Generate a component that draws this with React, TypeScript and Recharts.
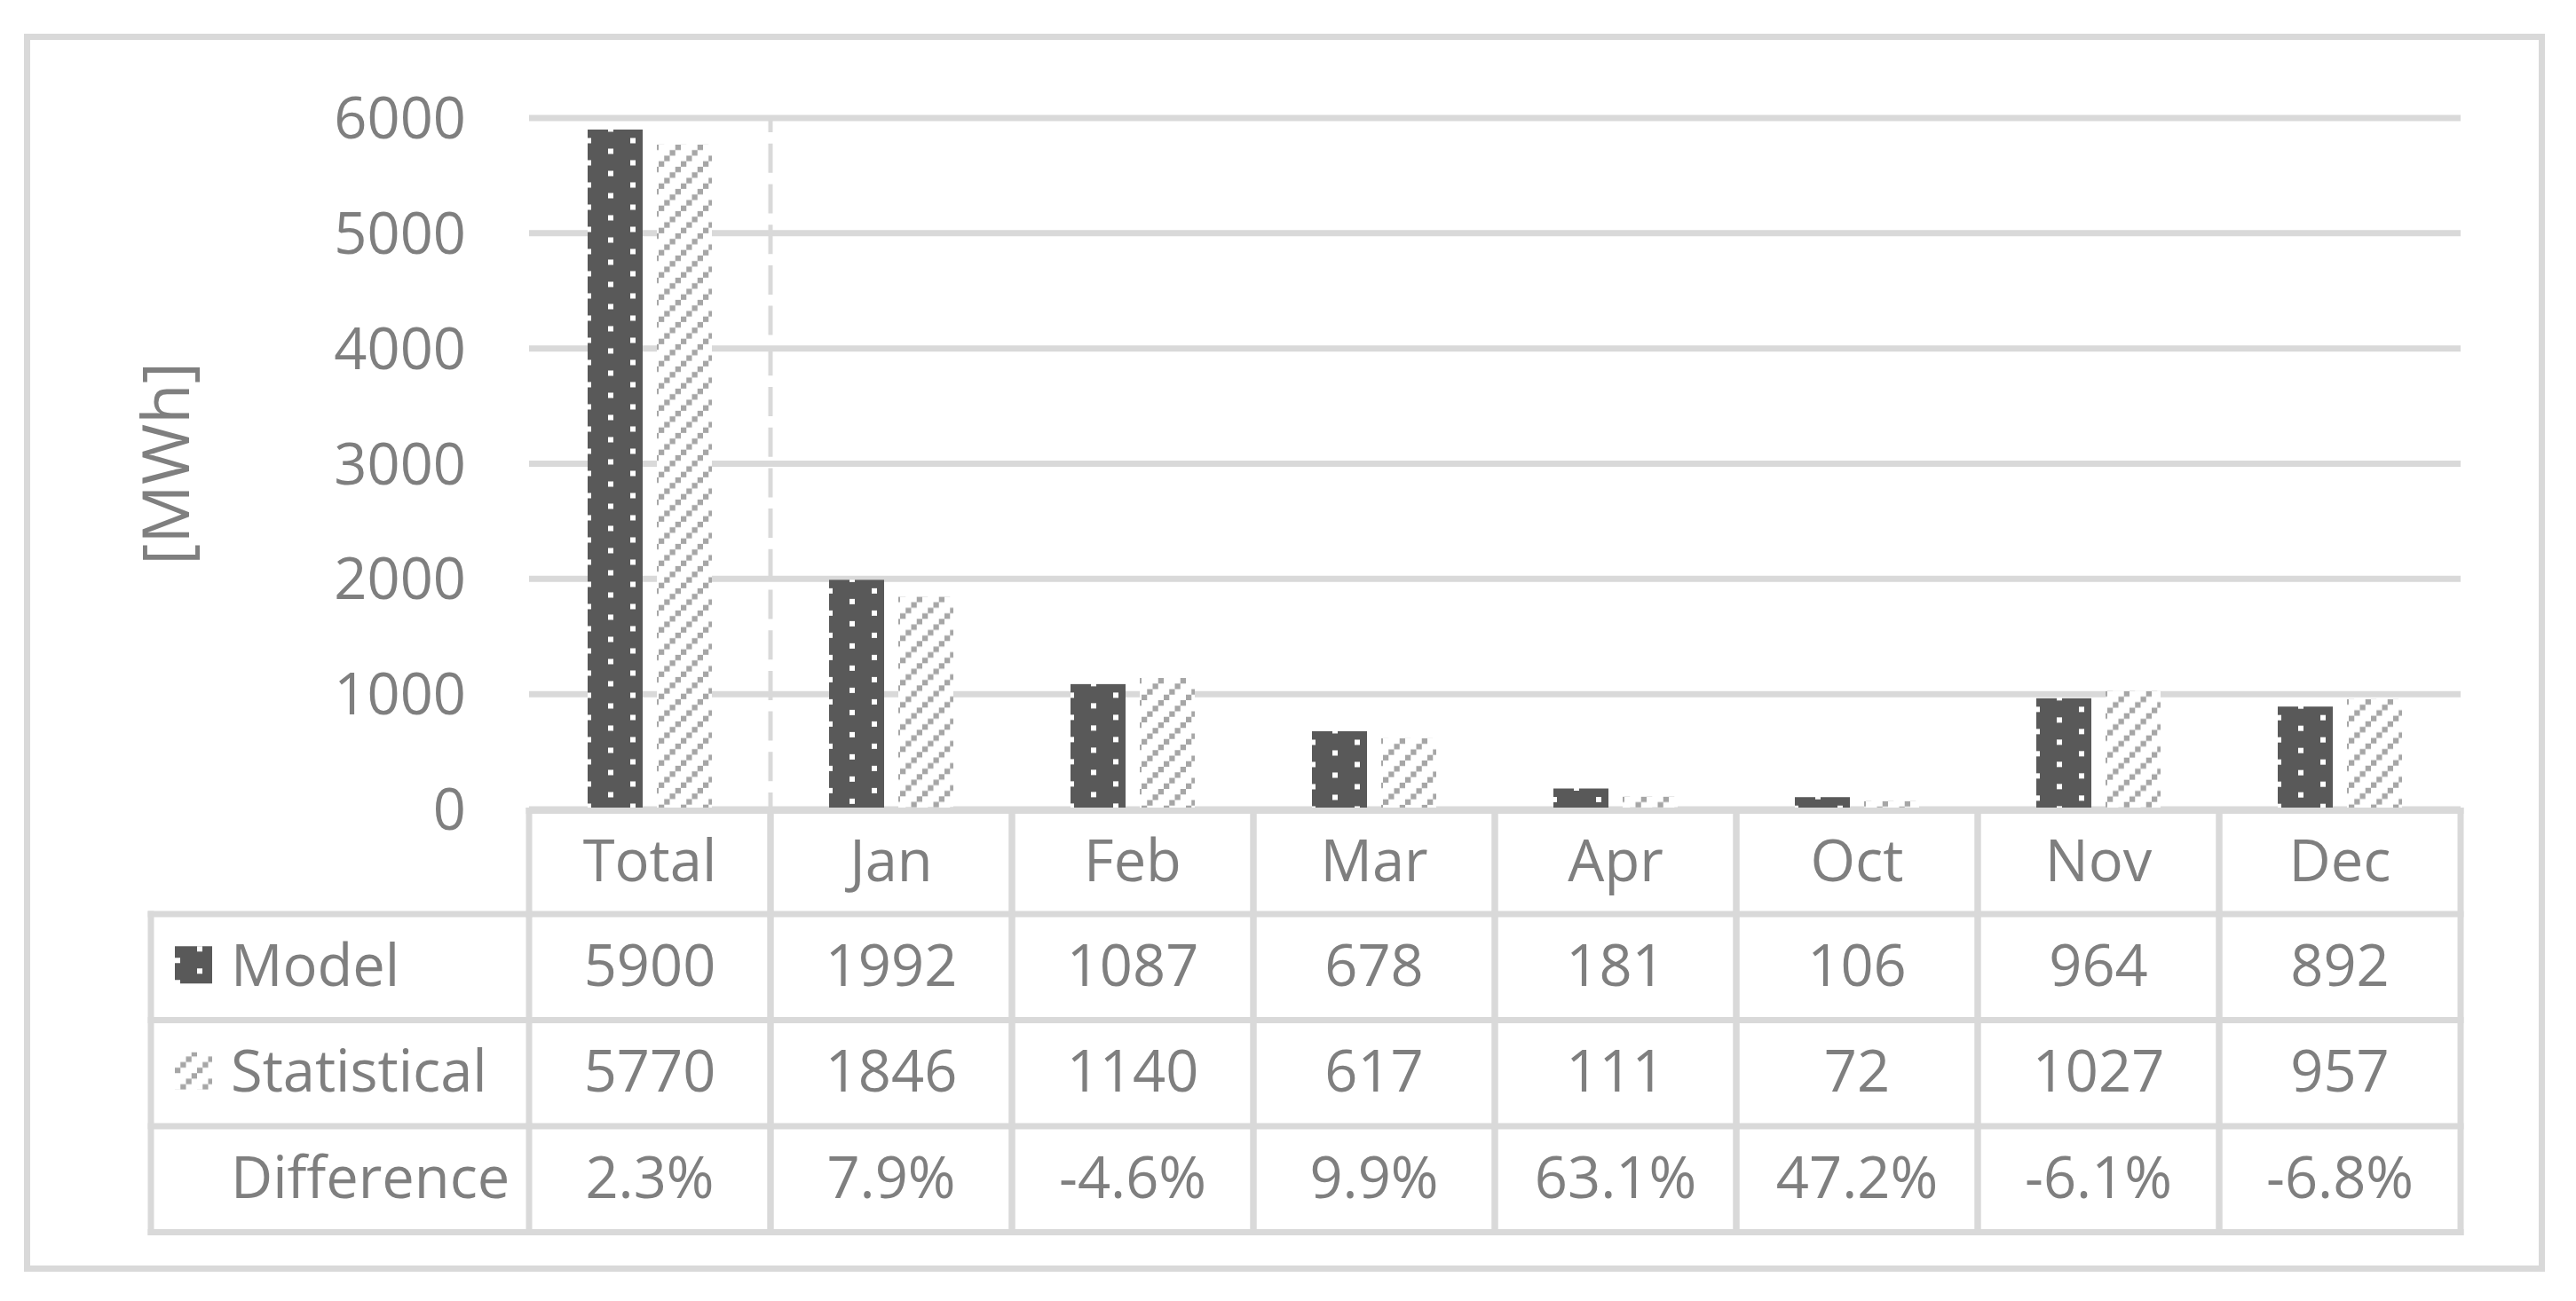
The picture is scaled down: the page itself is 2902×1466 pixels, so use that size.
import React from 'react';
import { BarChart, Bar, XAxis, YAxis, CartesianGrid, ReferenceLine } from 'recharts';

// ---------- data ----------
const categories = ['Total', 'Jan', 'Feb', 'Mar', 'Apr', 'Oct', 'Nov', 'Dec'];
const modelValues = [5900, 1992, 1087, 678, 181, 106, 964, 892];
const statisticalValues = [5770, 1846, 1140, 617, 111, 72, 1027, 957];
const differenceLabels = ['2.3%', '7.9%', '-4.6%', '9.9%', '63.1%', '47.2%', '-6.1%', '-6.8%'];
const yTicks = [0, 1000, 2000, 3000, 4000, 5000, 6000];
const rowNames = ['Model', 'Statistical', 'Difference'];
const yLabel = '[MWh]';

const data = categories.map((c, i) => ({
  category: c,
  model: modelValues[i],
  statistical: statisticalValues[i],
  difference: differenceLabels[i],
}));

// ---------- style ----------
const W = 2902;
const H = 1466;
const FONT = '"Open Sans", "Noto Sans", sans-serif';
const TEXT = '#7f7f7f';
const LINE = '#d9d9d9';
const DARK = '#595959';
const HATCH = '#a6a6a6';
const FS = 65;
const LW = 7;

const MARGIN = { top: 133, right: 130, bottom: 74, left: 0 };
const Y_AXIS_W = 596;
const X_AXIS_H = 480;
const HEADER_H = 116.5;
const ROW_H = 119.5;
const LEGEND_W = 426;
const BAND_FALLBACK = (W - MARGIN.left - MARGIN.right - Y_AXIS_W) / categories.length;

// ---------- patterns ----------
const DotPattern = ({ id, x, y }: any) => (
  <pattern id={id} patternUnits="userSpaceOnUse" x={x - 2} y={y - 3.5} width={50} height={25}>
    <rect x={0} y={0} width={50} height={25} fill={DARK} />
    <rect x={0} y={12.5} width={6} height={6} fill="#ffffff" shapeRendering="crispEdges" />
    <rect x={25} y={0} width={6} height={6} fill="#ffffff" shapeRendering="crispEdges" />
  </pattern>
);

const HatchPattern = ({ id, x, y }: any) => (
  <pattern id={id} patternUnits="userSpaceOnUse" x={x + 2} y={y} width={25} height={25}>
    <rect x={0} y={0} width={25} height={25} fill="#ffffff" />
    {[0, 1, 2, 3].map((k) => (
      <rect key={k} x={k * 6.25} y={18.75 - k * 6.25} width={6.25} height={6.25} fill={HATCH} />
    ))}
  </pattern>
);

const ModelShape = (props: any) => {
  const { x, y, width, height, index } = props;
  if (!(width > 0) || !(height > 0)) return null;
  const id = `model-dots-${index}`;
  return (
    <g>
      <defs>
        <DotPattern id={id} x={x} y={y} />
      </defs>
      <rect x={x} y={y} width={width} height={height} fill={`url(#${id})`} />
    </g>
  );
};

const StatShape = (props: any) => {
  const { x, y, width, height, index } = props;
  if (!(width > 0) || !(height > 0)) return null;
  const id = `stat-hatch-${index}`;
  return (
    <g>
      <defs>
        <HatchPattern id={id} x={x} y={y} />
      </defs>
      <rect x={x} y={y} width={width} height={height} fill={`url(#${id})`} />
    </g>
  );
};

// ---------- data table drawn as x-axis ticks ----------
const TableTick = (props: any) => {
  const { x, y, payload } = props;
  const i = payload && typeof payload.index === 'number' ? payload.index : props.index;
  const half = payload && payload.offset > 0 ? payload.offset : BAND_FALLBACK / 2;
  const left = x - half;
  const right = x + half;
  const top = y + 1.5;
  const rowTops = [
    top,
    top + HEADER_H,
    top + HEADER_H + ROW_H,
    top + HEADER_H + 2 * ROW_H,
    top + HEADER_H + 3 * ROW_H,
  ];
  const textProps = { fill: TEXT, fontSize: FS, fontFamily: FONT };
  const rowValues = [modelValues[i], statisticalValues[i], differenceLabels[i]];
  const lx = left - LEGEND_W;

  return (
    <g>
      {rowTops.map((ry, k) => (
        <line key={`h${k}`} x1={left} x2={right} y1={ry} y2={ry} stroke={LINE} strokeWidth={LW} strokeLinecap="square" />
      ))}
      <line x1={left} x2={left} y1={rowTops[0]} y2={rowTops[4]} stroke={LINE} strokeWidth={LW} strokeLinecap="square" />
      <line x1={right} x2={right} y1={rowTops[0]} y2={rowTops[4]} stroke={LINE} strokeWidth={LW} strokeLinecap="square" />
      <text x={x} y={rowTops[0] + HEADER_H / 2 + 21} textAnchor="middle" {...textProps}>
        {payload.value}
      </text>
      {rowValues.map((v, k) => (
        <text key={`v${k}`} x={x} y={rowTops[k + 1] + ROW_H / 2 + 21} textAnchor="middle" {...textProps}>
          {v}
        </text>
      ))}
      {i === 0 && (
        <g>
          <defs>
            <DotPattern id="legend-dots" x={lx + 29} y={rowTops[1] + ROW_H / 2 - 20} />
            <HatchPattern id="legend-hatch" x={lx + 25} y={rowTops[2] + ROW_H / 2 - 25} />
          </defs>
          {rowTops.slice(1).map((ry, k) => (
            <line key={`lh${k}`} x1={lx} x2={left} y1={ry} y2={ry} stroke={LINE} strokeWidth={LW} strokeLinecap="square" />
          ))}
          <line x1={lx} x2={lx} y1={rowTops[1]} y2={rowTops[4]} stroke={LINE} strokeWidth={LW} strokeLinecap="square" />
          <rect x={lx + 27} y={rowTops[1] + ROW_H / 2 - 23.5} width={42} height={42} fill="url(#legend-dots)" />
          <rect x={lx + 27} y={rowTops[2] + ROW_H / 2 - 23.5} width={42} height={42} fill="url(#legend-hatch)" />
          {rowNames.map((n, k) => (
            <text key={`n${k}`} x={lx + 90} y={rowTops[k + 1] + ROW_H / 2 + 21} textAnchor="start" {...textProps}>
              {n}
            </text>
          ))}
        </g>
      )}
    </g>
  );
};

const renderYLabel = (props: any) => {
  const vb = props && props.viewBox ? props.viewBox : { x: 0, y: MARGIN.top, width: Y_AXIS_W, height: 779 };
  const cx = vb.x + 213;
  const cy = vb.y + vb.height / 2;
  return (
    <text
      x={cx}
      y={cy}
      transform={`rotate(-90 ${cx} ${cy})`}
      textAnchor="middle"
      fill={TEXT}
      fontSize={74}
      fontFamily={FONT}
    >
      {yLabel}
    </text>
  );
};

export default function App() {
  return (
    <div style={{ position: 'absolute', left: 0, top: 0, width: W, height: H, background: '#ffffff', overflow: 'hidden' }}>
      <div
        style={{
          position: 'absolute',
          left: 27,
          top: 38,
          width: 2840,
          height: 1395,
          border: `${LW}px solid ${LINE}`,
          boxSizing: 'border-box',
        }}
      />
      <div style={{ position: 'absolute', left: 0, top: 0 }}>
        <BarChart width={W} height={H} data={data} margin={MARGIN} barSize={62} barGap={16}>
          <CartesianGrid vertical={false} horizontal={true} stroke={LINE} strokeWidth={LW} />
          <XAxis
            dataKey="category"
            type="category"
            height={X_AXIS_H}
            axisLine={false}
            tickLine={false}
            tickSize={0}
            tickMargin={0}
            interval={0}
            tick={(p: any) => <TableTick {...p} />}
          />
          <YAxis
            type="number"
            domain={[0, 6000]}
            ticks={yTicks}
            interval={0}
            width={Y_AXIS_W}
            axisLine={false}
            tickLine={false}
            tickSize={0}
            tickMargin={71}
            tick={{ fill: TEXT, fontSize: FS, fontFamily: FONT }}
            label={renderYLabel}
          />
          <ReferenceLine
            x="Total"
            position="end"
            stroke={LINE}
            strokeWidth={5}
            strokeDasharray="33 12.7"
            strokeDashoffset={14}
          />
          <Bar dataKey="model" name="Model" isAnimationActive={false} shape={(p: any) => <ModelShape {...p} />} />
          <Bar dataKey="statistical" name="Statistical" isAnimationActive={false} shape={(p: any) => <StatShape {...p} />} />
        </BarChart>
      </div>
    </div>
  );
}
